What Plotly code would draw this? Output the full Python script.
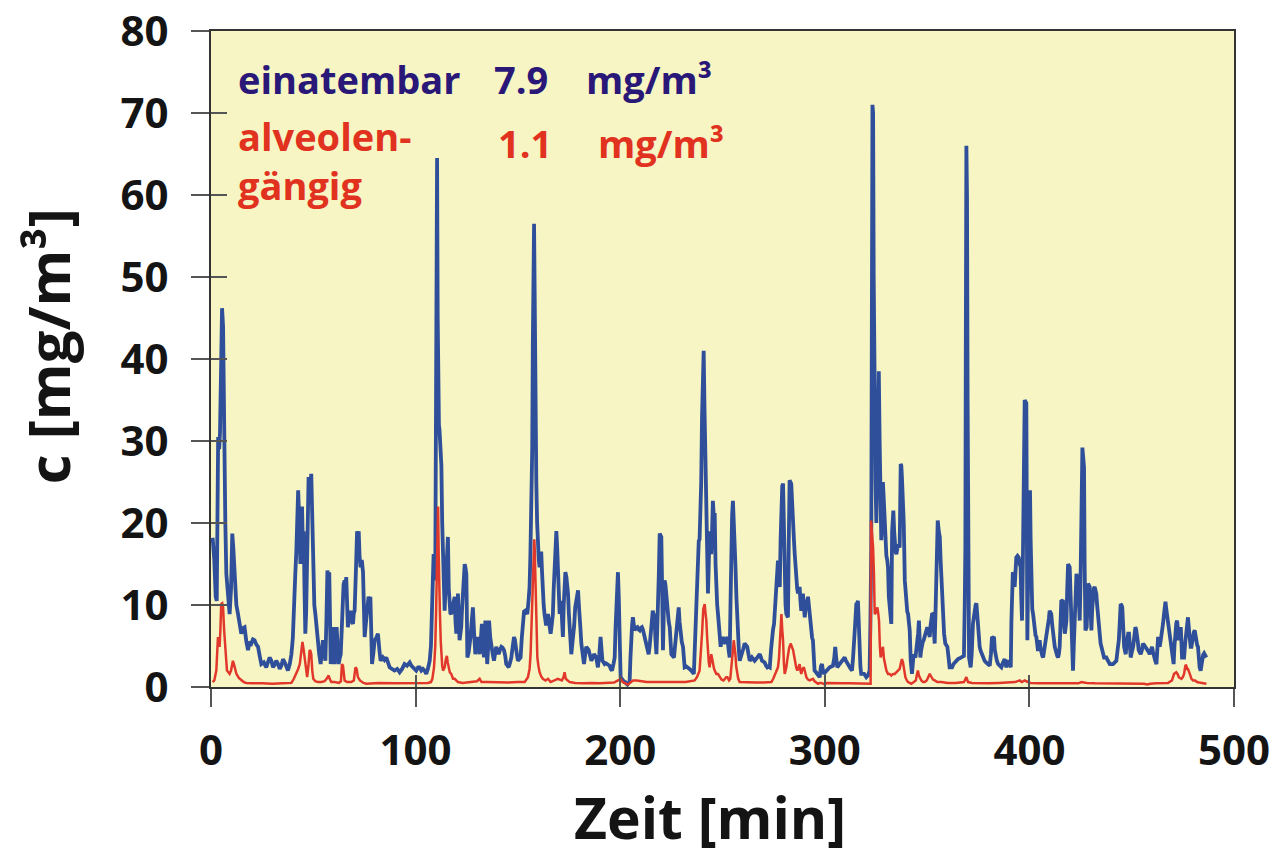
import plotly.graph_objects as go

# Zeitverlauf der Staubkonzentration, (Minute, mg/m³)
einatembar = [
    (0.8, 18.2), (1.6, 15.5), (2.3, 11.0), (2.8, 10.5), (3.2, 22.0), (3.5, 30.5), (4.0, 29.0), (4.4, 31.0),
    (5.0, 40.0), (5.4, 46.2), (5.9, 44.0), (6.4, 30.0), (7.0, 20.0), (7.5, 13.8), (8.3, 11.5), (9.1, 8.9),
    (9.8, 12.0), (10.4, 18.7), (10.9, 17.0), (11.6, 13.0), (12.4, 10.0), (13.2, 8.9), (14.0, 7.5), (14.8, 6.5),
    (15.6, 7.2), (16.4, 7.3), (17.3, 5.5), (18.1, 4.5), (18.9, 5.5), (19.7, 5.3), (20.5, 5.8), (21.3, 5.7),
    (22.1, 5.2), (23.0, 4.9), (23.8, 3.8), (24.6, 2.8), (25.8, 3.0), (27.0, 2.4), (27.8, 3.0), (28.7, 3.6),
    (29.5, 3.2), (30.3, 2.4), (31.1, 2.7), (31.9, 3.2), (32.8, 2.8), (33.6, 2.2), (34.4, 2.6), (35.2, 3.4),
    (36.4, 2.8), (37.6, 2.0), (38.5, 2.8), (39.3, 4.0), (40.0, 6.0), (40.6, 8.9), (41.2, 13.8), (41.7, 16.5),
    (42.2, 20.3), (42.6, 24.0), (42.9, 22.0), (43.3, 18.0), (43.7, 15.0), (44.1, 20.0), (44.5, 22.0), (44.9, 17.0),
    (45.3, 19.0), (45.7, 12.0), (46.1, 6.5), (46.5, 9.0), (46.9, 13.0), (47.3, 20.0), (47.7, 25.6), (48.3, 24.0),
    (49.0, 26.0), (49.5, 20.0), (50.0, 13.0), (50.5, 10.0), (51.0, 8.9), (51.6, 7.0), (52.3, 5.7), (52.9, 4.0),
    (53.6, 2.8), (54.2, 4.0), (54.7, 5.7), (55.3, 4.5), (55.9, 3.2), (56.4, 8.0), (56.9, 14.2), (57.4, 13.0),
    (57.8, 14.0), (58.2, 8.0), (58.5, 2.8), (59.0, 5.0), (59.5, 7.3), (60.0, 5.0), (60.4, 2.8), (60.9, 5.0),
    (61.4, 7.3), (61.9, 5.0), (62.4, 2.8), (62.9, 3.5), (63.4, 4.0), (63.9, 7.0), (64.3, 11.0), (64.8, 12.5),
    (65.3, 13.0), (65.7, 12.0), (66.1, 13.4), (66.5, 10.0), (66.9, 7.3), (67.6, 8.5), (68.3, 9.3), (68.8, 8.0),
    (69.4, 7.7), (69.8, 9.0), (70.2, 9.3), (70.8, 14.0), (71.4, 19.0), (71.8, 18.0), (72.2, 19.0), (72.6, 16.0),
    (73.1, 14.6), (73.7, 15.5), (74.3, 14.0), (74.7, 10.0), (75.1, 6.1), (75.6, 7.5), (76.1, 8.9), (76.6, 10.0),
    (77.0, 11.0), (77.5, 10.5), (77.9, 11.0), (78.3, 7.0), (78.7, 2.8), (79.3, 4.0), (80.0, 5.7), (80.8, 6.0),
    (81.6, 6.5), (82.3, 4.5), (82.9, 3.2), (84.0, 3.6), (84.8, 3.3), (85.7, 3.6), (86.5, 3.0), (87.3, 2.4),
    (88.5, 2.2), (89.7, 2.0), (91.0, 2.2), (92.2, 1.8), (93.4, 2.2), (94.6, 2.8), (95.8, 2.6), (97.1, 3.0),
    (97.9, 2.6), (98.7, 2.4), (99.5, 2.2), (100.3, 2.0), (101.2, 2.4), (102.0, 2.4), (102.8, 2.0), (103.6, 2.2),
    (104.4, 2.0), (105.2, 1.6), (106.0, 2.2), (106.9, 3.2), (107.5, 5.0), (108.0, 8.9), (108.4, 13.0), (108.8, 16.2),
    (109.2, 14.0), (109.6, 13.0), (109.9, 30.0), (110.2, 50.0), (110.5, 64.5), (110.8, 45.0), (111.1, 34.0), (111.4, 32.0),
    (111.7, 31.3), (112.2, 28.0), (112.6, 27.0), (113.0, 20.0), (113.4, 14.2), (113.8, 11.0), (114.2, 9.3), (114.6, 12.0),
    (115.0, 15.4), (115.4, 16.0), (115.8, 18.3), (116.2, 12.0), (116.6, 9.3), (117.0, 9.0), (117.4, 8.9), (117.8, 9.5),
    (118.3, 9.7), (118.7, 10.5), (119.1, 11.0), (119.5, 8.0), (119.9, 6.5), (120.3, 9.0), (120.7, 11.4), (121.1, 8.0),
    (121.5, 5.7), (121.9, 6.5), (122.3, 7.3), (122.7, 9.5), (123.1, 11.4), (123.5, 13.0), (124.0, 15.0), (124.4, 14.5),
    (124.8, 13.8), (125.1, 8.0), (125.3, 3.6), (125.9, 4.2), (126.4, 4.9), (126.8, 6.0), (127.2, 7.3), (127.6, 8.5),
    (128.0, 9.7), (128.6, 6.5), (129.2, 4.0), (129.7, 5.0), (130.2, 6.1), (130.8, 5.0), (131.3, 4.0), (131.8, 5.5),
    (132.4, 7.7), (132.9, 5.5), (133.4, 3.6), (133.8, 6.0), (134.1, 8.1), (134.5, 6.0), (135.0, 2.8), (135.5, 5.0),
    (135.9, 8.1), (136.5, 6.0), (137.0, 4.9), (137.7, 4.0), (138.3, 3.2), (138.9, 4.0), (139.4, 4.9), (140.0, 4.5),
    (140.6, 4.0), (141.2, 4.5), (141.9, 4.9), (142.5, 4.8), (143.2, 4.5), (143.8, 3.8), (144.3, 2.8), (144.9, 2.6),
    (145.5, 2.4), (146.2, 3.0), (146.8, 3.6), (147.5, 5.0), (148.1, 6.1), (148.5, 5.8), (148.9, 5.3), (149.5, 4.0),
    (150.0, 3.2), (150.7, 3.4), (151.3, 3.6), (151.9, 6.0), (152.5, 8.9), (153.0, 9.2), (153.6, 9.3), (154.1, 9.0),
    (154.6, 8.9), (155.2, 10.5), (155.7, 12.2), (156.1, 16.0), (156.5, 21.0), (157.0, 29.0), (157.3, 42.0), (157.6, 52.0),
    (157.9, 56.5), (158.2, 48.0), (158.6, 32.0), (159.0, 25.0), (159.4, 20.0), (159.8, 17.0), (160.2, 15.5), (160.6, 14.6),
    (161.0, 15.5), (161.4, 16.5), (161.8, 14.0), (162.2, 11.0), (162.6, 10.0), (163.0, 8.9), (163.8, 7.5), (164.7, 8.9),
    (165.3, 7.8), (166.0, 6.5), (166.5, 7.5), (167.1, 8.9), (167.5, 12.0), (168.0, 15.0), (168.4, 17.5), (168.8, 19.0),
    (169.2, 17.0), (169.6, 14.2), (170.0, 11.0), (170.4, 8.9), (170.8, 9.5), (171.2, 10.5), (171.6, 8.0), (172.0, 6.1),
    (172.4, 10.0), (172.8, 13.8), (173.2, 14.0), (173.7, 13.4), (174.1, 12.5), (174.5, 11.4), (174.9, 9.0), (175.3, 6.5),
    (175.7, 5.0), (176.1, 4.0), (176.5, 5.0), (176.9, 5.7), (177.5, 7.5), (178.0, 9.7), (178.7, 10.5), (179.4, 11.8),
    (179.8, 10.0), (180.2, 8.9), (180.6, 7.0), (181.0, 5.3), (181.6, 4.0), (182.3, 2.8), (182.9, 4.0), (183.4, 4.9),
    (184.0, 4.7), (184.6, 4.5), (185.3, 3.8), (185.9, 3.2), (186.5, 3.5), (187.2, 4.0), (187.8, 3.8), (188.3, 3.6),
    (188.7, 3.0), (189.1, 2.4), (189.8, 4.0), (190.4, 6.1), (190.9, 4.5), (191.3, 3.2), (191.9, 3.0), (192.4, 2.8),
    (193.0, 2.9), (193.7, 2.8), (194.3, 2.7), (194.8, 2.6), (195.4, 2.2), (196.0, 2.0), (196.7, 2.8), (197.3, 3.6),
    (197.7, 7.0), (198.1, 10.6), (198.5, 13.0), (198.9, 14.0), (199.3, 11.0), (199.6, 8.9), (199.9, 4.5), (200.2, 1.2),
    (200.8, 0.9), (201.4, 0.8), (202.0, 0.6), (202.5, 0.6), (203.0, 0.4), (203.5, 0.3), (204.0, 0.5), (204.6, 0.6),
    (205.0, 3.5), (205.4, 6.5), (205.8, 7.5), (206.2, 8.5), (206.6, 7.5), (207.0, 6.9), (207.7, 7.2), (208.4, 7.3),
    (209.0, 7.0), (209.5, 6.9), (210.0, 7.2), (210.6, 7.3), (211.1, 7.0), (211.6, 6.5), (212.2, 5.5), (212.8, 4.9),
    (213.4, 4.4), (213.9, 4.0), (214.4, 5.0), (214.9, 6.1), (215.4, 7.8), (215.9, 9.3), (216.3, 9.0), (216.8, 8.5),
    (217.2, 6.0), (217.7, 4.0), (218.1, 7.0), (218.5, 9.7), (218.9, 14.0), (219.3, 18.7), (219.7, 18.5), (220.1, 18.3),
    (220.5, 12.0), (220.9, 4.5), (221.3, 9.0), (221.7, 13.0), (222.1, 12.5), (222.5, 11.4), (222.9, 10.0), (223.3, 8.9),
    (223.7, 8.0), (224.2, 7.3), (224.6, 5.5), (225.0, 4.0), (225.6, 3.8), (226.3, 3.6), (226.8, 5.0), (227.4, 6.5),
    (228.0, 8.0), (228.6, 9.7), (229.0, 8.0), (229.5, 6.5), (230.1, 5.5), (230.7, 4.9), (231.1, 3.5), (231.5, 2.4),
    (232.3, 2.5), (233.1, 2.4), (233.9, 2.2), (234.7, 2.0), (235.4, 1.8), (236.0, 1.6), (236.5, 5.0), (236.9, 8.5),
    (237.4, 13.0), (238.0, 17.5), (238.4, 17.8), (238.8, 18.0), (239.2, 21.0), (239.6, 25.0), (240.0, 33.0), (240.4, 39.0),
    (240.8, 41.0), (241.2, 34.0), (241.6, 28.0), (242.1, 25.0), (242.5, 18.0), (242.9, 11.4), (243.3, 15.0), (243.7, 19.0),
    (244.1, 17.5), (244.5, 16.2), (244.9, 19.0), (245.3, 22.7), (245.7, 21.0), (246.2, 21.0), (246.6, 15.0), (247.0, 11.4),
    (247.4, 10.0), (247.8, 8.9), (248.4, 6.5), (249.1, 4.9), (249.6, 5.8), (250.2, 6.1), (250.8, 5.5), (251.4, 5.3),
    (251.9, 5.8), (252.4, 6.1), (253.0, 4.5), (253.5, 3.6), (253.9, 10.0), (254.3, 17.0), (254.7, 21.0), (255.1, 22.7),
    (255.5, 20.5), (255.9, 18.7), (256.3, 15.0), (256.8, 11.0), (257.2, 8.0), (257.6, 5.7), (258.0, 4.5), (258.4, 3.2),
    (259.0, 3.6), (259.5, 4.0), (260.2, 4.7), (260.8, 5.3), (261.5, 5.0), (262.1, 4.9), (262.7, 4.0), (263.3, 3.2),
    (263.9, 3.4), (264.4, 3.6), (265.0, 3.4), (265.7, 3.2), (266.4, 3.4), (267.0, 3.6), (267.6, 3.8), (268.2, 4.0),
    (268.8, 3.6), (269.3, 3.2), (270.0, 3.1), (270.6, 3.0), (271.3, 2.6), (271.9, 2.4), (272.5, 2.5), (273.1, 2.4),
    (273.7, 4.5), (274.2, 6.5), (274.7, 7.0), (275.2, 7.7), (275.8, 10.5), (276.3, 13.0), (276.7, 14.5), (277.1, 15.4),
    (277.6, 13.0), (278.0, 12.2), (278.4, 18.0), (278.8, 23.6), (279.2, 24.5), (279.6, 24.8), (280.0, 18.0), (280.4, 13.0),
    (280.8, 10.0), (281.2, 8.9), (281.6, 8.6), (282.0, 8.5), (282.4, 18.0), (282.8, 25.2), (283.2, 25.0), (283.6, 24.8),
    (284.0, 22.0), (284.5, 19.5), (284.9, 18.0), (285.3, 16.2), (285.7, 14.5), (286.1, 13.0), (286.5, 12.0), (286.9, 11.4),
    (287.3, 11.8), (287.7, 12.2), (288.1, 10.5), (288.5, 9.3), (288.9, 10.5), (289.3, 11.4), (289.7, 10.0), (290.2, 8.5),
    (290.6, 9.5), (291.0, 10.1), (291.4, 10.8), (291.8, 11.0), (292.2, 10.0), (292.6, 8.9), (293.0, 8.0), (293.4, 6.5),
    (293.8, 6.0), (294.2, 5.7), (294.6, 3.5), (295.0, 2.0), (295.7, 1.8), (296.4, 1.6), (297.0, 1.4), (297.5, 1.2),
    (298.1, 2.5), (298.6, 2.8), (299.1, 2.0), (299.6, 1.6), (300.2, 1.8), (300.8, 2.0), (301.6, 2.2), (302.4, 2.4),
    (303.2, 2.5), (304.0, 2.6), (304.6, 3.5), (305.1, 4.9), (305.6, 3.5), (306.1, 2.4), (306.7, 2.6), (307.3, 2.8),
    (307.8, 3.0), (308.4, 3.2), (309.0, 3.4), (309.7, 3.6), (310.3, 3.2), (311.0, 2.8), (311.6, 2.6), (312.2, 2.4),
    (312.7, 2.2), (313.3, 2.0), (313.8, 3.5), (314.3, 4.9), (314.8, 7.5), (315.4, 10.1), (315.8, 10.2), (316.2, 10.5),
    (316.6, 7.0), (317.0, 3.6), (317.4, 2.5), (317.8, 1.6), (318.5, 1.6), (319.2, 1.6), (319.8, 1.4), (320.3, 1.2),
    (321.1, 1.4), (321.9, 2.0), (322.3, 8.0), (322.7, 17.0), (323.0, 45.0), (323.3, 71.0), (323.6, 70.0), (323.9, 50.0),
    (324.2, 36.0), (324.5, 33.0), (324.8, 25.0), (325.2, 20.0), (325.6, 30.0), (326.0, 38.0), (326.4, 38.5), (326.8, 30.0),
    (327.2, 22.0), (327.6, 17.9), (328.0, 20.0), (328.4, 25.0), (328.8, 23.0), (329.3, 19.0), (329.7, 17.0), (330.1, 16.0),
    (330.5, 15.5), (330.9, 14.6), (331.3, 11.0), (331.7, 9.3), (332.1, 8.0), (332.5, 7.7), (332.9, 19.0), (333.5, 21.5),
    (333.9, 19.0), (334.2, 17.0), (334.6, 16.5), (335.0, 16.2), (335.4, 16.8), (335.8, 17.4), (336.2, 17.2), (336.6, 17.0),
    (337.1, 27.2), (337.4, 27.0), (337.7, 25.6), (338.2, 22.0), (338.6, 19.9), (339.1, 13.0), (339.5, 11.0), (339.9, 9.7),
    (340.3, 9.2), (340.7, 8.9), (341.1, 8.0), (341.5, 6.9), (342.0, 3.2), (342.6, 1.6), (343.0, 2.8), (343.4, 4.0),
    (343.8, 3.8), (344.3, 3.6), (344.7, 4.4), (345.2, 5.3), (345.6, 6.5), (346.0, 8.1), (346.4, 5.0), (346.7, 3.6),
    (347.1, 4.5), (347.5, 5.3), (347.9, 5.5), (348.3, 5.7), (348.7, 6.1), (349.1, 6.5), (349.6, 7.0), (350.1, 7.3),
    (350.7, 6.7), (351.3, 6.1), (351.7, 7.5), (352.1, 8.9), (352.5, 9.0), (352.9, 8.9), (353.3, 7.0), (353.7, 5.3),
    (354.1, 9.0), (354.5, 13.0), (354.9, 17.0), (355.2, 20.3), (355.7, 19.0), (356.2, 18.3), (356.6, 15.5), (357.0, 13.0),
    (357.4, 10.5), (357.8, 7.7), (358.3, 6.5), (358.9, 5.3), (359.4, 5.1), (359.9, 4.9), (360.4, 3.8), (361.0, 2.4),
    (361.6, 2.4), (362.2, 2.4), (362.9, 2.8), (363.5, 3.0), (364.3, 3.2), (365.1, 3.4), (365.9, 3.5), (366.7, 3.6),
    (367.3, 3.7), (368.0, 3.8), (368.4, 10.0), (368.7, 17.0), (368.9, 40.0), (369.2, 66.0), (369.5, 60.0), (369.8, 35.0),
    (370.0, 25.0), (370.3, 8.0), (370.5, 3.6), (371.3, 2.4), (371.8, 4.0), (372.4, 7.7), (372.9, 9.0), (373.3, 9.7),
    (373.7, 10.0), (374.1, 10.2), (374.5, 8.5), (374.9, 7.3), (375.3, 6.0), (375.7, 4.9), (376.2, 4.4), (376.8, 4.0),
    (377.5, 3.6), (378.1, 3.2), (378.8, 3.0), (379.5, 2.8), (380.0, 2.7), (380.6, 2.6), (381.2, 4.0), (381.7, 6.1),
    (382.2, 6.0), (382.7, 6.1), (383.1, 4.5), (383.5, 3.6), (384.1, 3.2), (384.7, 2.8), (385.5, 2.6), (386.3, 2.4),
    (387.1, 3.0), (387.9, 3.4), (388.3, 3.0), (388.7, 2.4), (389.3, 3.0), (389.9, 3.2), (390.4, 2.8), (390.9, 2.4),
    (391.2, 8.0), (391.5, 13.0), (391.9, 14.0), (392.2, 13.8), (392.5, 13.0), (392.8, 12.2), (393.2, 14.0), (393.6, 15.8),
    (394.2, 16.0), (394.8, 15.8), (395.3, 15.0), (395.7, 14.6), (396.0, 11.0), (396.4, 8.1), (396.8, 15.0), (397.1, 20.3),
    (397.4, 28.0), (397.7, 35.0), (398.1, 34.8), (398.5, 34.6), (398.8, 15.0), (399.0, 5.7), (399.3, 12.0), (399.7, 20.3),
    (400.0, 23.0), (400.3, 24.0), (400.6, 18.0), (401.0, 11.0), (401.4, 9.5), (401.8, 8.9), (402.2, 7.5), (402.6, 6.5),
    (403.0, 6.3), (403.4, 6.1), (403.8, 5.2), (404.2, 4.4), (404.6, 5.0), (405.0, 5.7), (405.4, 4.8), (405.8, 4.0),
    (406.3, 3.8), (406.7, 3.6), (407.1, 4.2), (407.5, 4.9), (407.9, 5.7), (408.3, 6.5), (408.7, 6.9), (409.1, 7.3),
    (409.5, 8.3), (409.9, 9.3), (410.3, 9.1), (410.7, 8.9), (411.1, 7.7), (411.5, 6.5), (412.0, 5.7), (412.4, 4.9),
    (412.8, 4.5), (413.2, 4.0), (413.6, 3.8), (414.0, 3.6), (414.4, 4.0), (414.8, 4.9), (415.2, 8.0), (415.6, 10.6),
    (416.0, 10.5), (416.4, 10.6), (416.8, 8.0), (417.3, 6.5), (417.7, 7.2), (418.1, 8.1), (418.5, 12.0), (418.9, 15.0),
    (419.3, 14.8), (419.7, 14.6), (420.1, 11.0), (420.5, 7.7), (420.9, 4.5), (421.3, 2.0), (421.7, 5.0), (422.1, 8.1),
    (422.5, 11.0), (423.0, 13.8), (423.4, 13.4), (423.8, 13.0), (424.2, 10.5), (424.6, 8.1), (425.0, 13.0), (425.4, 19.0),
    (425.7, 25.0), (425.9, 29.2), (426.3, 28.0), (426.7, 26.8), (427.0, 15.0), (427.4, 6.9), (428.0, 7.3), (428.4, 10.0),
    (428.7, 12.6), (429.1, 12.4), (429.5, 12.2), (429.9, 9.0), (430.3, 6.9), (430.7, 9.5), (431.1, 11.8), (431.5, 12.0),
    (431.9, 12.2), (432.3, 11.8), (432.7, 11.4), (433.1, 10.0), (433.5, 8.9), (434.0, 7.0), (434.4, 5.7), (434.8, 5.3),
    (435.2, 4.9), (435.8, 4.3), (436.5, 3.6), (437.0, 3.6), (437.6, 3.6), (438.4, 3.2), (439.3, 2.8), (440.1, 2.8),
    (440.9, 2.8), (441.7, 3.0), (442.5, 3.2), (443.1, 4.5), (443.7, 5.7), (444.2, 8.0), (444.6, 10.1), (445.0, 10.0),
    (445.4, 9.7), (445.8, 7.0), (446.3, 4.9), (446.7, 4.4), (447.1, 4.0), (447.5, 5.3), (447.9, 6.5), (448.3, 6.5),
    (448.7, 6.5), (449.1, 5.0), (449.5, 3.6), (450.1, 4.3), (450.7, 4.9), (451.2, 6.0), (451.8, 7.3), (452.2, 7.0),
    (452.6, 6.5), (453.0, 5.5), (453.4, 4.5), (453.9, 4.3), (454.4, 4.0), (455.0, 4.5), (455.5, 5.3), (456.1, 5.1),
    (456.7, 4.9), (457.2, 4.7), (457.7, 4.5), (458.2, 4.3), (458.8, 4.0), (459.3, 4.5), (459.9, 4.9), (460.4, 4.3),
    (460.9, 3.6), (461.5, 3.2), (462.1, 2.8), (462.5, 4.5), (462.9, 6.1), (463.3, 5.5), (463.7, 4.9), (464.2, 5.7),
    (464.8, 6.5), (465.3, 7.7), (465.8, 8.9), (466.1, 9.8), (466.5, 10.4), (466.9, 9.5), (467.4, 8.5), (468.0, 7.0),
    (468.6, 5.7), (469.1, 4.8), (469.7, 3.6), (470.1, 3.2), (470.5, 2.8), (470.9, 5.0), (471.3, 7.3), (471.8, 7.8),
    (472.2, 8.1), (472.6, 7.0), (473.0, 5.7), (473.5, 6.5), (474.0, 7.3), (474.3, 5.5), (474.6, 3.6), (475.1, 3.6),
    (475.6, 3.6), (476.2, 5.5), (476.7, 7.3), (477.1, 8.0), (477.5, 8.5), (478.0, 7.0), (478.4, 4.9), (478.8, 4.9),
    (479.2, 4.9), (479.6, 5.7), (480.0, 6.5), (480.4, 6.7), (480.8, 6.9), (481.2, 6.0), (481.6, 5.3), (482.0, 5.1),
    (482.4, 4.9), (482.8, 3.5), (483.2, 2.4), (483.7, 2.0), (484.1, 2.8), (484.5, 3.6), (484.9, 3.9), (485.4, 4.1),
    (485.9, 3.8), (486.5, 3.6),
]

alveolengaengig = [
    (0.8, 0.6), (1.6, 0.8), (2.6, 2.0), (3.0, 4.0), (3.4, 6.1), (3.8, 5.5), (4.2, 4.9), (4.6, 7.0),
    (5.0, 10.1), (5.5, 10.2), (5.9, 9.7), (6.4, 7.0), (7.0, 4.9), (7.4, 3.0), (7.8, 2.0), (8.5, 1.8),
    (9.1, 1.6), (9.8, 2.0), (10.3, 2.8), (10.7, 3.2), (11.2, 2.8), (11.8, 2.0), (12.4, 1.6), (13.6, 1.1),
    (14.8, 0.8), (16.0, 0.6), (17.3, 0.5), (20.0, 0.45), (25.0, 0.45), (30.0, 0.4), (35.0, 0.45), (39.3, 0.5),
    (40.5, 1.0), (41.7, 1.6), (42.6, 2.2), (43.4, 2.8), (44.0, 4.0), (44.7, 5.5), (45.3, 4.5), (45.8, 3.6),
    (46.4, 2.0), (47.0, 1.2), (47.6, 2.5), (48.2, 4.5), (48.6, 4.4), (49.0, 4.0), (49.5, 2.0), (50.0, 1.0),
    (51.0, 0.7), (52.3, 0.6), (54.0, 0.6), (55.5, 0.7), (56.5, 1.0), (57.5, 1.4), (58.0, 1.0), (58.8, 0.6),
    (60.5, 0.6), (62.5, 0.5), (63.5, 0.7), (64.0, 2.8), (64.5, 2.6), (65.3, 0.8), (66.5, 0.6), (68.5, 0.6),
    (69.8, 0.8), (70.6, 2.4), (71.2, 2.2), (71.8, 1.2), (72.8, 0.8), (74.5, 0.5), (76.0, 0.4), (78.0, 0.45),
    (80.0, 0.5), (81.6, 0.5), (90.0, 0.45), (100.0, 0.45), (106.0, 0.5), (107.5, 0.6), (108.2, 1.0), (109.0, 2.4),
    (109.6, 4.9), (110.0, 9.0), (110.3, 13.0), (110.7, 20.0), (111.0, 22.0), (111.3, 16.0), (111.6, 10.0), (111.9, 8.9),
    (112.3, 5.5), (112.6, 4.0), (113.0, 2.6), (113.4, 2.0), (113.8, 2.2), (114.2, 2.4), (114.8, 3.4), (115.3, 3.8),
    (115.7, 3.0), (116.1, 2.4), (116.7, 1.8), (117.4, 1.6), (118.3, 1.0), (119.1, 1.0), (120.7, 0.6), (123.0, 0.5),
    (126.0, 0.55), (128.0, 0.6), (130.0, 0.7), (131.3, 1.0), (132.2, 0.6), (135.0, 0.6), (140.0, 0.55), (145.0, 0.55),
    (150.0, 0.6), (153.3, 0.6), (154.9, 1.2), (155.7, 2.2), (156.2, 4.0), (156.6, 7.5), (156.9, 11.4), (157.3, 15.0),
    (157.7, 17.9), (158.0, 18.0), (158.2, 17.0), (158.5, 14.0), (158.8, 11.0), (159.1, 7.0), (159.5, 3.6), (160.0, 2.6),
    (160.6, 1.8), (161.4, 1.3), (162.2, 1.0), (163.5, 0.8), (164.7, 1.0), (166.0, 0.6), (167.5, 0.8), (169.5, 1.0),
    (171.5, 0.8), (172.3, 1.2), (172.8, 1.8), (173.4, 1.0), (175.3, 0.6), (178.0, 0.5), (182.0, 0.45), (186.0, 0.5),
    (190.0, 0.45), (194.0, 0.5), (197.0, 0.55), (198.9, 0.8), (200.2, 1.0), (201.2, 0.6), (202.5, 0.4), (203.8, 0.3),
    (204.8, 0.5), (206.2, 0.8), (208.0, 0.8), (210.0, 0.7), (213.0, 0.6), (216.0, 0.6), (220.0, 0.6), (224.0, 0.6),
    (228.0, 0.55), (232.0, 0.6), (236.4, 0.8), (237.5, 1.2), (238.8, 2.0), (239.4, 4.0), (240.0, 6.5), (240.6, 9.5),
    (241.3, 10.1), (241.7, 9.0), (242.1, 8.1), (242.5, 6.0), (242.9, 4.0), (243.3, 3.0), (243.7, 2.4), (244.1, 3.0),
    (244.5, 4.0), (244.9, 3.5), (245.3, 2.8), (245.8, 2.3), (246.2, 2.0), (247.0, 1.6), (247.8, 1.6), (248.6, 1.2),
    (249.5, 0.9), (250.5, 0.8), (251.8, 1.2), (252.4, 1.2), (253.2, 0.8), (253.8, 1.0), (254.6, 2.8), (255.1, 4.5),
    (255.5, 5.7), (255.9, 5.0), (256.3, 4.0), (256.7, 2.5), (257.1, 1.6), (257.7, 1.0), (258.4, 0.6), (262.0, 0.55),
    (266.0, 0.55), (270.0, 0.55), (273.9, 0.6), (274.8, 1.0), (275.8, 1.6), (276.5, 2.0), (277.1, 2.4), (277.6, 3.5),
    (278.0, 4.9), (278.4, 7.0), (278.8, 8.9), (279.2, 7.0), (279.6, 5.7), (280.0, 3.0), (280.4, 1.6), (280.8, 2.0),
    (281.2, 2.4), (281.6, 3.2), (282.0, 4.0), (282.6, 4.8), (283.3, 5.3), (283.9, 5.0), (284.5, 4.5), (285.0, 3.8),
    (285.6, 2.8), (286.1, 2.3), (286.6, 2.0), (287.2, 2.4), (287.7, 2.8), (288.1, 2.0), (288.5, 1.6), (289.1, 2.2),
    (289.8, 2.4), (290.4, 1.8), (291.0, 1.2), (291.8, 0.9), (292.6, 0.8), (293.4, 0.9), (294.2, 1.0), (295.0, 0.7),
    (295.8, 0.6), (296.7, 0.4), (297.5, 0.5), (298.3, 0.5), (299.2, 0.4), (300.0, 0.3), (301.0, 0.5), (304.0, 0.45),
    (308.0, 0.45), (312.0, 0.45), (316.0, 0.45), (320.0, 0.4), (322.4, 0.4), (322.6, 20.3), (323.0, 19.0), (323.6, 17.0),
    (324.0, 14.0), (324.4, 8.9), (324.8, 9.0), (325.2, 9.5), (325.7, 9.7), (326.1, 9.0), (326.5, 8.1), (326.9, 5.0),
    (327.3, 3.6), (327.8, 4.2), (328.4, 4.9), (328.9, 3.5), (329.3, 2.8), (330.1, 2.0), (330.9, 1.6), (331.7, 1.6),
    (332.5, 1.4), (333.4, 1.6), (334.2, 1.6), (335.0, 1.8), (335.8, 2.0), (336.6, 2.2), (337.1, 2.8), (337.4, 3.4),
    (337.7, 3.4), (338.2, 3.0), (338.6, 2.4), (339.0, 1.8), (339.4, 1.2), (340.1, 0.8), (340.7, 0.6), (341.5, 0.5),
    (342.3, 0.4), (343.5, 0.6), (344.5, 0.8), (345.0, 1.5), (345.5, 2.0), (346.0, 1.4), (346.4, 1.2), (347.2, 0.8),
    (348.0, 0.6), (348.8, 0.6), (349.8, 0.8), (350.8, 1.3), (351.3, 1.6), (351.7, 1.4), (352.1, 1.2), (352.9, 0.9),
    (353.7, 0.8), (355.0, 0.6), (357.0, 0.6), (360.0, 0.5), (364.0, 0.5), (368.0, 0.6), (368.6, 0.9), (369.2, 1.2),
    (369.6, 0.9), (370.0, 0.6), (372.0, 0.5), (376.0, 0.45), (380.0, 0.45), (385.0, 0.5), (390.0, 0.55), (393.0, 0.6),
    (395.3, 0.8), (396.3, 0.6), (397.0, 0.7), (397.7, 0.8), (398.5, 0.7), (399.3, 0.6), (400.5, 0.5), (404.0, 0.45),
    (408.0, 0.45), (412.0, 0.45), (416.0, 0.45), (420.0, 0.4), (424.0, 0.45), (425.4, 0.6), (426.2, 0.55), (428.0, 0.5),
    (432.0, 0.45), (436.0, 0.45), (440.0, 0.45), (444.0, 0.45), (448.0, 0.45), (452.0, 0.45), (456.0, 0.4), (457.7, 0.3),
    (459.0, 0.4), (462.0, 0.45), (466.0, 0.5), (467.8, 0.5), (469.0, 0.7), (469.7, 0.8), (470.2, 1.2), (470.7, 1.6),
    (471.3, 1.7), (471.8, 1.8), (472.4, 1.6), (473.0, 1.2), (473.6, 1.1), (474.3, 1.0), (475.0, 1.2), (475.6, 1.6),
    (476.1, 2.4), (476.4, 2.7), (476.7, 2.6), (477.1, 2.2), (477.5, 2.2), (477.9, 1.8), (478.4, 1.6), (479.2, 1.0),
    (480.0, 0.8), (481.0, 0.8), (482.0, 0.6), (483.0, 0.55), (484.0, 0.5), (485.0, 0.45), (486.5, 0.4),
]

# Schichtmittelwerte
mittel_einatembar = 7.9
mittel_alveolen = 1.1

x_ticks = [0, 100, 200, 300, 400, 500]
y_ticks = [0, 10, 20, 30, 40, 50, 60, 70, 80]

BLUE = "#2F4F9A"
RED = "#E2382B"
TXT_BLUE = "#2A1878"
TXT_RED = "#E1321F"
FONT = "Open Sans"

fig = go.Figure()

# einatembare Fraktion unten, alveolengängige Fraktion darüber
fig.add_trace(go.Scatter(
    x=[p[0] for p in einatembar], y=[p[1] for p in einatembar],
    mode="lines", line=dict(color=BLUE, width=3.8), hoverinfo="skip", showlegend=False,
))
fig.add_trace(go.Scatter(
    x=[p[0] for p in alveolengaengig], y=[p[1] for p in alveolengaengig],
    mode="lines", line=dict(color=RED, width=2.5), hoverinfo="skip", showlegend=False,
))
# leere Spur, damit die Hilfsachsen für die inneren Tickstriche gezeichnet werden
fig.add_trace(go.Scatter(x=[], y=[], xaxis="x2", yaxis="y2", mode="lines",
                         hoverinfo="skip", showlegend=False))

axis_common = dict(
    showgrid=False, zeroline=False, automargin=False,
    tickfont=dict(family=FONT, size=42, color="#141414", weight="bold"),
    ticks="outside", ticklen=18, tickwidth=1.5, tickcolor="#555",
    showline=True, linecolor="#333", linewidth=2, mirror=True,
)
inner_common = dict(
    ticks="inside", tickwidth=1.5, tickcolor="#555", automargin=False,
    showticklabels=False, showgrid=False, zeroline=False, showline=False,
)

fig.update_layout(
    width=1287, height=859,
    margin=dict(l=211, r=53, t=31, b=172),
    paper_bgcolor="white",
    plot_bgcolor="#F7F5C3",
    xaxis=dict(range=[0, 500], tickvals=x_ticks, ticklabelstandoff=8, **axis_common),
    yaxis=dict(range=[0, 80], tickvals=y_ticks, ticklabelstandoff=14, **axis_common),
    xaxis2=dict(range=[0, 500], tickvals=x_ticks, overlaying="x", side="bottom",
                ticklen=12, **inner_common),
    yaxis2=dict(range=[0, 80], tickvals=y_ticks, overlaying="y", side="left",
                ticklen=16, **inner_common),
)

# Achsentitel
fig.add_annotation(text="Zeit [min]", xref="paper", yref="paper", x=0.488, y=-0.2605,
                   showarrow=False, xanchor="center", yanchor="bottom",
                   font=dict(family=FONT, size=57, color="#141414", weight="bold"))
fig.add_annotation(text="c [mg/m³]", xref="paper", yref="paper", x=-0.159, y=0.52,
                   showarrow=False, xanchor="center", yanchor="middle", textangle=-90,
                   font=dict(family=FONT, size=58, color="#141414", weight="bold"))

# Beschriftung der Kurven mit Mittelwerten
lab = dict(showarrow=False, xanchor="left", yanchor="middle", xref="x", yref="y")
f_blue = dict(family=FONT, size=38, color=TXT_BLUE, weight="bold")
f_red = dict(family=FONT, size=38, color=TXT_RED, weight="bold")
fig.add_annotation(text="einatembar", x=12.0, y=74.2, font=f_blue, **lab)
fig.add_annotation(text=f"{mittel_einatembar:.1f}", x=137.5, y=74.2, font=f_blue, **lab)
fig.add_annotation(text="mg/m³", x=182.5, y=74.2, font=f_blue, **lab)
fig.add_annotation(text="alveolen-<br>gängig", x=12.0, y=64.2, align="left", font=f_red, **lab)
fig.add_annotation(text=f"{mittel_alveolen:.1f}", x=139.5, y=66.4, font=f_red, **lab)
fig.add_annotation(text="mg/m³", x=188.0, y=66.4, font=f_red, **lab)

fig.write_html("out.html")
